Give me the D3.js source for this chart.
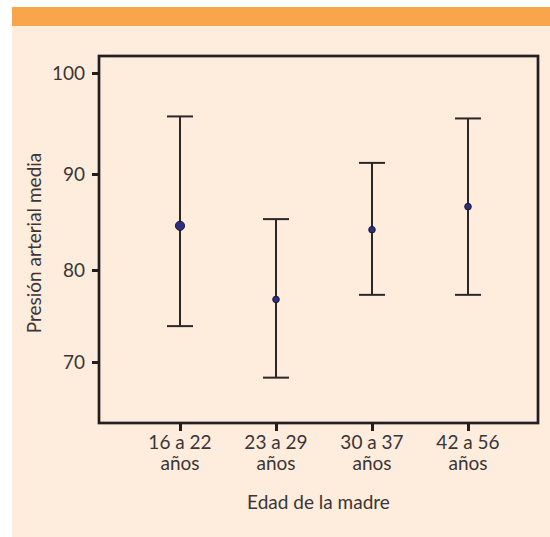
<!DOCTYPE html>
<html>
<head>
<meta charset="utf-8">
<script src="https://cdn.jsdelivr.net/npm/d3@7"></script>
<style>
  body { margin: 0; background: #fff; }
  svg { display: block; }
  text { font-family: Lato, 'Open Sans', sans-serif; fill: #3b3536; }
</style>
</head>
<body>
<div id="chart"></div>
<script>
// data
const categories = ['16 a 22 años', '23 a 29 años', '30 a 37 años', '42 a 56 años']
const means = [84.6, 76.8, 84.2, 86.6]
const upper = [95.7, 85.3, 91.1, 95.5]
const lower = [73.9, 68.3, 77.3, 77.3]
const yTicks = [70, 80, 90, 100]

const width = 550
const height = 537
const box = { left: 99, top: 56, right: 538, bottom: 423 }

const svg = d3.select('#chart').append('svg')
  .attr('width', width)
  .attr('height', height)

// panel background + orange band
svg.append('rect')
  .attr('x', 12).attr('y', 7)
  .attr('width', width - 12).attr('height', height - 7)
  .attr('fill', '#feecdd')
svg.append('rect')
  .attr('x', 12).attr('y', 7)
  .attr('width', width - 12).attr('height', 19)
  .attr('fill', '#f9a54b')

// x positions of the groups
const x = d3.scalePoint()
  .domain(categories)
  .range([box.left + 81, box.right - 70])

// the printed axis is not evenly spaced, so follow the tick marks piecewise
const y = d3.scaleLinear()
  .domain(yTicks)
  .range([362, 270, 174, 73])

const rows = categories.map((c, i) => ({ c, mean: means[i], hi: upper[i], lo: lower[i], i }))

// y axis
const yAxis = svg.append('g')
  .attr('transform', `translate(${box.left},0)`)
  .call(d3.axisLeft(y).tickValues(yTicks).tickSize(7).tickPadding(7))
yAxis.select('.domain').remove()
yAxis.selectAll('line').attr('stroke', '#231f20').attr('stroke-width', 3)
yAxis.selectAll('text')
  .style('font-size', '19px')
  .style('font-family', 'Lato, sans-serif')
  .attr('fill', '#3b3536')

// x axis
const xAxis = svg.append('g')
  .attr('transform', `translate(0,${box.bottom})`)
  .call(d3.axisBottom(x).tickSize(8).tickFormat(''))
xAxis.select('.domain').remove()
xAxis.selectAll('line').attr('stroke', '#231f20').attr('stroke-width', 3)

const labels = svg.append('g')
  .selectAll('text')
  .data(categories)
  .join('text')
  .attr('text-anchor', 'middle')
  .style('font-size', '19px')
labels.append('tspan')
  .attr('x', d => x(d))
  .attr('y', box.bottom + 26)
  .text(d => d.replace(' años', ''))
labels.append('tspan')
  .attr('x', d => x(d))
  .attr('y', box.bottom + 47)
  .text('años')

// plot frame
svg.append('rect')
  .attr('x', box.left).attr('y', box.top)
  .attr('width', box.right - box.left)
  .attr('height', box.bottom - box.top)
  .attr('fill', 'none')
  .attr('stroke', '#231f20')
  .attr('stroke-width', 2.7)

// error bars
const bars = svg.append('g')
  .attr('stroke', '#2b2729')
  .attr('stroke-width', 2)

bars.selectAll('.stem')
  .data(rows)
  .join('line')
  .attr('class', 'stem')
  .attr('x1', d => x(d.c)).attr('x2', d => x(d.c))
  .attr('y1', d => y(d.hi)).attr('y2', d => y(d.lo))

bars.selectAll('.cap-hi')
  .data(rows)
  .join('line')
  .attr('class', 'cap-hi')
  .attr('x1', d => x(d.c) - 13).attr('x2', d => x(d.c) + 13)
  .attr('y1', d => y(d.hi)).attr('y2', d => y(d.hi))

bars.selectAll('.cap-lo')
  .data(rows)
  .join('line')
  .attr('class', 'cap-lo')
  .attr('x1', d => x(d.c) - 13).attr('x2', d => x(d.c) + 13)
  .attr('y1', d => y(d.lo)).attr('y2', d => y(d.lo))

// mean points (first one is printed larger)
svg.append('g')
  .selectAll('circle')
  .data(rows)
  .join('circle')
  .attr('cx', d => x(d.c))
  .attr('cy', d => y(d.mean))
  .attr('r', d => d.i === 0 ? 4.6 : 3.3)
  .attr('fill', '#2f2d82')
  .attr('stroke', '#1b1a2a')
  .attr('stroke-width', 1)

// axis titles
svg.append('text')
  .attr('x', (box.left + box.right) / 2)
  .attr('y', 509)
  .attr('text-anchor', 'middle')
  .style('font-size', '19px')
  .text('Edad de la madre')

svg.append('text')
  .attr('transform', `translate(41,${243}) rotate(-90)`)
  .attr('text-anchor', 'middle')
  .style('font-size', '19px')
  .text('Presión arterial media')
</script>
</body>
</html>
